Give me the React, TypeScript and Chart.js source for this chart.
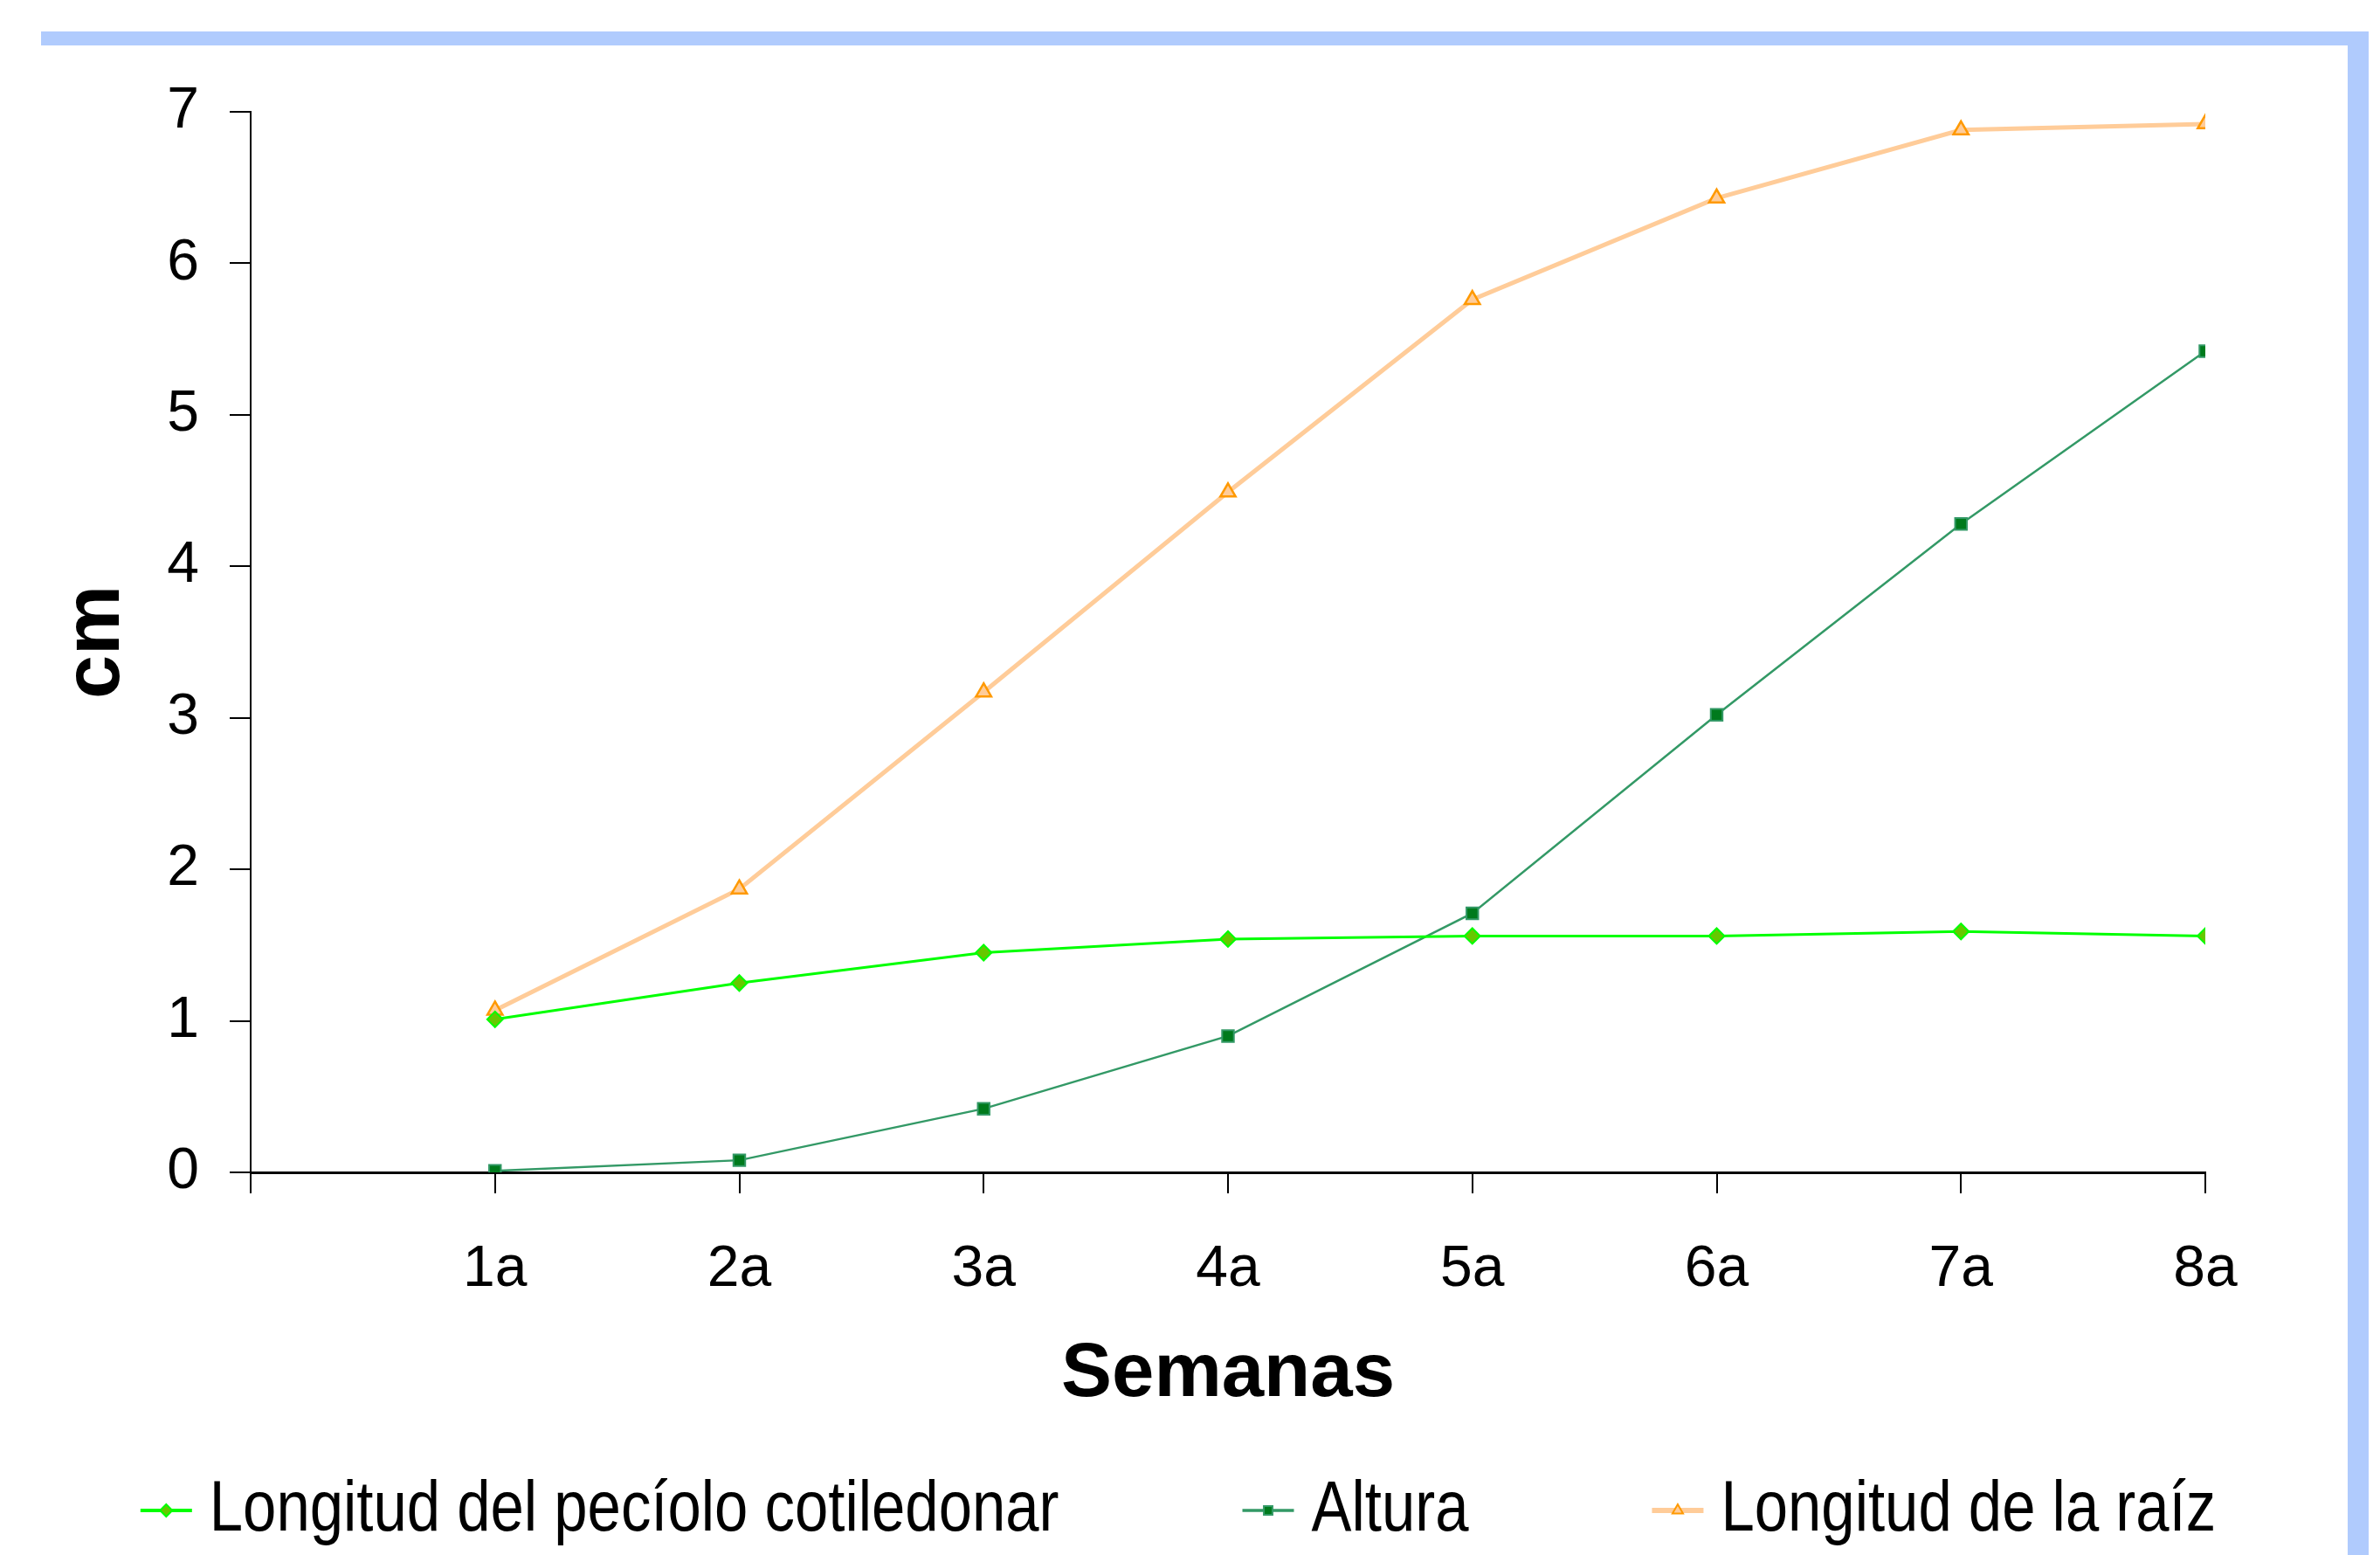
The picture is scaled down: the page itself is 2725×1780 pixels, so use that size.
import React, { useEffect, useRef } from "react";
import { Chart, registerables } from "chart.js";

Chart.register(...registerables);

const weeks = ["1a", "2a", "3a", "4a", "5a", "6a", "7a", "8a"];
const pecioloValues = [1.01, 1.25, 1.45, 1.54, 1.56, 1.56, 1.59, 1.56];
const alturaValues = [0.01, 0.08, 0.42, 0.9, 1.71, 3.02, 4.28, 5.42];
const raizValues = [1.07, 1.87, 3.17, 4.49, 5.76, 6.43, 6.88, 6.92];
const seriesNames = ["Longitud del pecíolo cotiledonar", "Altura", "Longitud de la raíz"];
const yTicks = [0, 1, 2, 3, 4, 5, 6, 7];

const W = 2725;
const H = 1780;
const FONT = '"Liberation Sans", Arial, sans-serif';

function drawMarker(ctx: CanvasRenderingContext2D, style: string, x: number, y: number, r: number, fill: string, stroke: string, lw: number) {
  ctx.beginPath();
  if (style === "rectRot") {
    ctx.moveTo(x, y - r);
    ctx.lineTo(x + r, y);
    ctx.lineTo(x, y + r);
    ctx.lineTo(x - r, y);
    ctx.closePath();
  } else if (style === "rect") {
    const s = r * Math.SQRT1_2;
    ctx.rect(x - s, y - s, 2 * s, 2 * s);
  } else {
    ctx.moveTo(x, y - r);
    ctx.lineTo(x + r * 0.866, y + r / 2);
    ctx.lineTo(x - r * 0.866, y + r / 2);
    ctx.closePath();
  }
  ctx.fillStyle = fill;
  ctx.fill();
  ctx.lineWidth = lw;
  ctx.strokeStyle = stroke;
  ctx.stroke();
}

const bottomLegend = {
  id: "bottomLegend",
  afterDraw(chart: any) {
    const ctx: CanvasRenderingContext2D = chart.ctx;
    ctx.save();
    ctx.font = `82px ${FONT}`;
    ctx.textBaseline = "middle";
    ctx.textAlign = "left";
    const squeeze = 0.84;
    const markerW = 59;
    const gap = 20;
    const itemGap = 210;
    const ds = chart.data.datasets;
    const widths = ds.map((d: any) => ctx.measureText(d.label).width * squeeze);
    const total = widths.reduce((a: number, w: number) => a + markerW + gap + w, 0) + itemGap * (ds.length - 1);
    const cx = 1349;
    const y = 1729;
    let x = cx - total / 2;
    ds.forEach((d: any, i: number) => {
      ctx.beginPath();
      ctx.moveTo(x, y);
      ctx.lineTo(x + markerW, y);
      ctx.strokeStyle = d.borderColor;
      ctx.lineWidth = d.borderWidth + 1;
      ctx.stroke();
      drawMarker(ctx, d.pointStyle, x + markerW / 2, y, 7, d.pointBackgroundColor, d.pointBorderColor, 2);
      ctx.save();
      ctx.translate(x + markerW + gap, y);
      ctx.scale(squeeze, 1);
      ctx.fillStyle = "#000";
      ctx.fillText(d.label, 0, 0);
      ctx.restore();
      x += markerW + gap + widths[i] + itemGap;
    });
    ctx.restore();
  },
};

export default function App() {
  const ref = useRef<HTMLCanvasElement | null>(null);

  useEffect(() => {
    if (!ref.current) return;
    const toPts = (vals: number[]) => vals.map((v, i) => ({ x: i + 1, y: v }));
    const chart = new Chart(ref.current, {
      type: "line",
      data: {
        datasets: [
          {
            label: seriesNames[0],
            data: toPts(pecioloValues),
            borderColor: "#00ff00",
            borderWidth: 3,
            pointStyle: "rectRot",
            pointRadius: 9,
            pointBackgroundColor: "#66c800",
            pointBorderColor: "#00ff00",
            pointBorderWidth: 2,
            tension: 0,
          },
          {
            label: seriesNames[1],
            data: toPts(alturaValues),
            borderColor: "#339966",
            borderWidth: 2.5,
            pointStyle: "rect",
            pointRadius: 9.5,
            pointBackgroundColor: "#007a1c",
            pointBorderColor: "#339966",
            pointBorderWidth: 2,
            tension: 0,
          },
          {
            label: seriesNames[2],
            data: toPts(raizValues),
            borderColor: "#ffcc99",
            borderWidth: 5,
            pointStyle: "triangle",
            pointRadius: 10,
            pointBackgroundColor: "#ffcc99",
            pointBorderColor: "#ff9900",
            pointBorderWidth: 2.5,
            tension: 0,
          },
        ] as any,
      },
      options: {
        animation: false,
        responsive: false,
        devicePixelRatio: 1,
        layout: { padding: { left: 57, right: 200, top: 128, bottom: 120 } },
        plugins: {
          legend: { display: false },
          tooltip: { enabled: false },
        },
        scales: {
          x: {
            type: "linear",
            min: 0,
            max: 8,
            afterFit: (s: any) => {
              s.height = 318;
            },
            afterBuildTicks: (s: any) => {
              s.ticks = [0, 1, 2, 3, 4, 5, 6, 7, 8].map((v) => ({ value: v }));
            },
            ticks: {
              autoSkip: false,
              maxRotation: 0,
              padding: 48,
              color: "#000",
              font: { family: FONT, size: 66 },
              callback: (v: any) => (v >= 1 ? weeks[v - 1] : ""),
            },
            grid: {
              drawOnChartArea: false,
              drawTicks: true,
              tickLength: 24,
              color: "#000",
              lineWidth: 2,
            },
            border: { color: "#000", width: 3 },
            title: {
              display: true,
              text: "Semanas",
              color: "#000",
              font: { family: FONT, size: 87, weight: "bold" },
              padding: { top: 0, bottom: 34 },
            },
          },
          y: {
            type: "linear",
            min: 0,
            max: 7,
            afterFit: (s: any) => {
              s.width = 230;
            },
            afterBuildTicks: (s: any) => {
              s.ticks = yTicks.map((v) => ({ value: v }));
            },
            ticks: {
              padding: 35,
              color: "#000",
              font: { family: FONT, size: 66 },
            },
            grid: {
              drawOnChartArea: false,
              drawTicks: true,
              tickLength: 24,
              color: "#000",
              lineWidth: 2,
            },
            border: { color: "#000", width: 2 },
            title: {
              display: true,
              text: "cm",
              color: "#000",
              font: { family: FONT, size: 90, weight: "bold" },
              padding: { top: 0, bottom: 0 },
            },
          },
        },
      } as any,
      plugins: [bottomLegend],
    });
    return () => chart.destroy();
  }, []);

  return (
    <div style={{ position: "fixed", left: 0, top: 0, width: W, height: H, background: "#fff", overflow: "hidden" }}>
      <canvas ref={ref} width={W} height={H} style={{ position: "absolute", left: 0, top: 0, width: W, height: H }} />
      <div
        style={{
          position: "absolute",
          left: 47,
          top: 36,
          width: 2712 - 47,
          height: H - 36,
          boxSizing: "border-box",
          borderTop: "16px solid #b0cbfd",
          borderRight: "24px solid #b0cbfd",
          pointerEvents: "none",
        }}
      />
    </div>
  );
}
